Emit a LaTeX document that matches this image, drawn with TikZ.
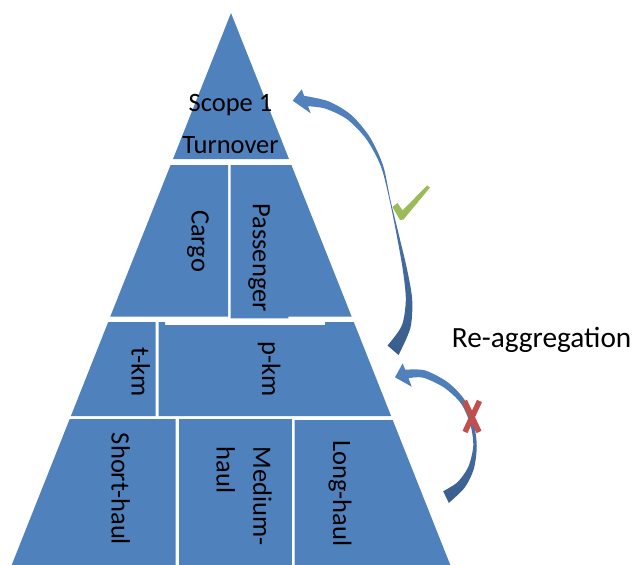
\documentclass[tikz,border=0pt]{standalone}
\usepackage{fontspec}
\setmainfont{Carlito}
\definecolor{tier}{HTML}{4F81BD}
\definecolor{arrtop}{HTML}{5284C1}
\definecolor{arrbot}{HTML}{3A5D8C}
\definecolor{okgreen}{HTML}{9BBB59}
\definecolor{nored}{HTML}{C0504D}
\begin{document}
\begin{tikzpicture}[x=1pt,y=-1pt,
  tierfill/.style={fill=tier},
  lbl/.style={font=\fontsize{26.5}{31}\selectfont, inner sep=0pt},
  vlbl/.style={lbl, rotate=-90},
  bendarrow/.style={top color=arrtop, bottom color=arrbot}]
\useasboundingbox (0,0) rectangle (632,565);

% top tier
\fill[tierfill] (231,13) -- (289,159) -- (173,159) -- cycle;
% second tier
\fill[tierfill] (170.6,165) -- (228,165) -- (228,316.7) -- (110.2,316.7) -- cycle;
\fill[tierfill] (230.5,165) -- (291.4,165) -- (351.7,316.7) -- (288.3,316.7)
  -- (288.3,318.3) -- (230.5,318.3) -- cycle;
% third tier
\fill[tierfill] (108.2,322) -- (155.7,322) -- (155.7,416) -- (70.9,416) -- cycle;
\fill[tierfill] (158.7,322) -- (165,322) -- (165,325) -- (325,325) -- (325,322)
  -- (353.8,322) -- (391.1,416) -- (158.7,416) -- cycle;
% bottom tier
\fill[tierfill] (69.7,419) -- (175.7,419) -- (175.7,565) -- (11.7,565) -- cycle;
\fill[tierfill] (178.7,419) -- (292.3,419) -- (292.3,565) -- (178.7,565) -- cycle;
\fill[tierfill] (294.7,420) -- (392.7,420) -- (450.3,565) -- (294.7,565) -- cycle;

% labels
\node[lbl, anchor=base] (scope) at (230.5,111.7) {Scope 1};
\node[lbl, anchor=base] (turnover) at (230.5,153.3) {Turnover};
\node[vlbl] (cargo) at (198,241) {Cargo};
\node[vlbl] (passenger) at (259.2,257.5) {Passenger};
\node[vlbl] (tkm) at (140.8,371.7) {t-km};
\node[vlbl] (pkm) at (269.2,369.2) {p-km};
\node[vlbl] (short) at (120.8,489) {Short-haul};
\node[vlbl, anchor=base west] (medium) at (253.3,446.7) {Medium-};
\node[vlbl, anchor=base west] (mediumb) at (216.7,446.7) {haul};
\node[vlbl] (long) at (340,493.3) {Long-haul};
\node[lbl, font=\fontsize{29.3}{35}\selectfont, anchor=base west] (reagg)
  at (451.7,347.3) {Re-aggregation};

% long bent arrow up to the top tier
\shade[bendarrow]
  plot[smooth] coordinates {(304.1,95.8) (328.4,101.3) (350.9,114.7) (369.7,136.9)
    (383.1,165.6) (390.4,199.9) (399.1,235.8) (407.1,269.6) (412.2,299.9)
    (410.3,328.2) (398.5,355)}
  -- plot[smooth] coordinates {(387.5,345.5) (401.7,325.8) (405.8,300.1)
    (402.9,270.4) (396.9,236.2) (389.6,200.1) (380.9,166.4) (366.3,139.1)
    (347.1,119.3) (325.6,108.7) (308,106.2)}
  -- (310.7,113.3) -- (292.7,100.7) -- (301.7,89.3) -- cycle;

% short bent arrow up to the third tier
\shade[bendarrow]
  plot[smooth] coordinates {(405.2,369.75) (425.0,370.4) (447.9,382.4) (465.1,400.6)
    (473.7,423.5) (476.75,446.0) (473.8,469.0) (464.6,487.7) (448.8,502.9)}
  -- plot[smooth] coordinates {(443.2,491.2) (457.4,482.3) (468.2,467.0)
    (473.25,446.0) (470.3,424.5) (460.9,403.4) (444.1,387.6) (423.0,377.6)
    (408.5,378.25)}
  -- (411.7,386.7) -- (395,377.3) -- (402.7,363.3) -- cycle;

% tick
\fill[okgreen] (392.5,207) -- (397.5,203) -- (402.5,210.5) -- (427,185.5)
  -- (430,187.5) -- (403.5,219.5) -- (400,220) -- cycle;

% cross
\draw[nored, line width=5.5pt] (464.5,401) -- (479,432);
\draw[nored, line width=5.5pt] (479.5,401) -- (465,432);
\end{tikzpicture}
\end{document}
